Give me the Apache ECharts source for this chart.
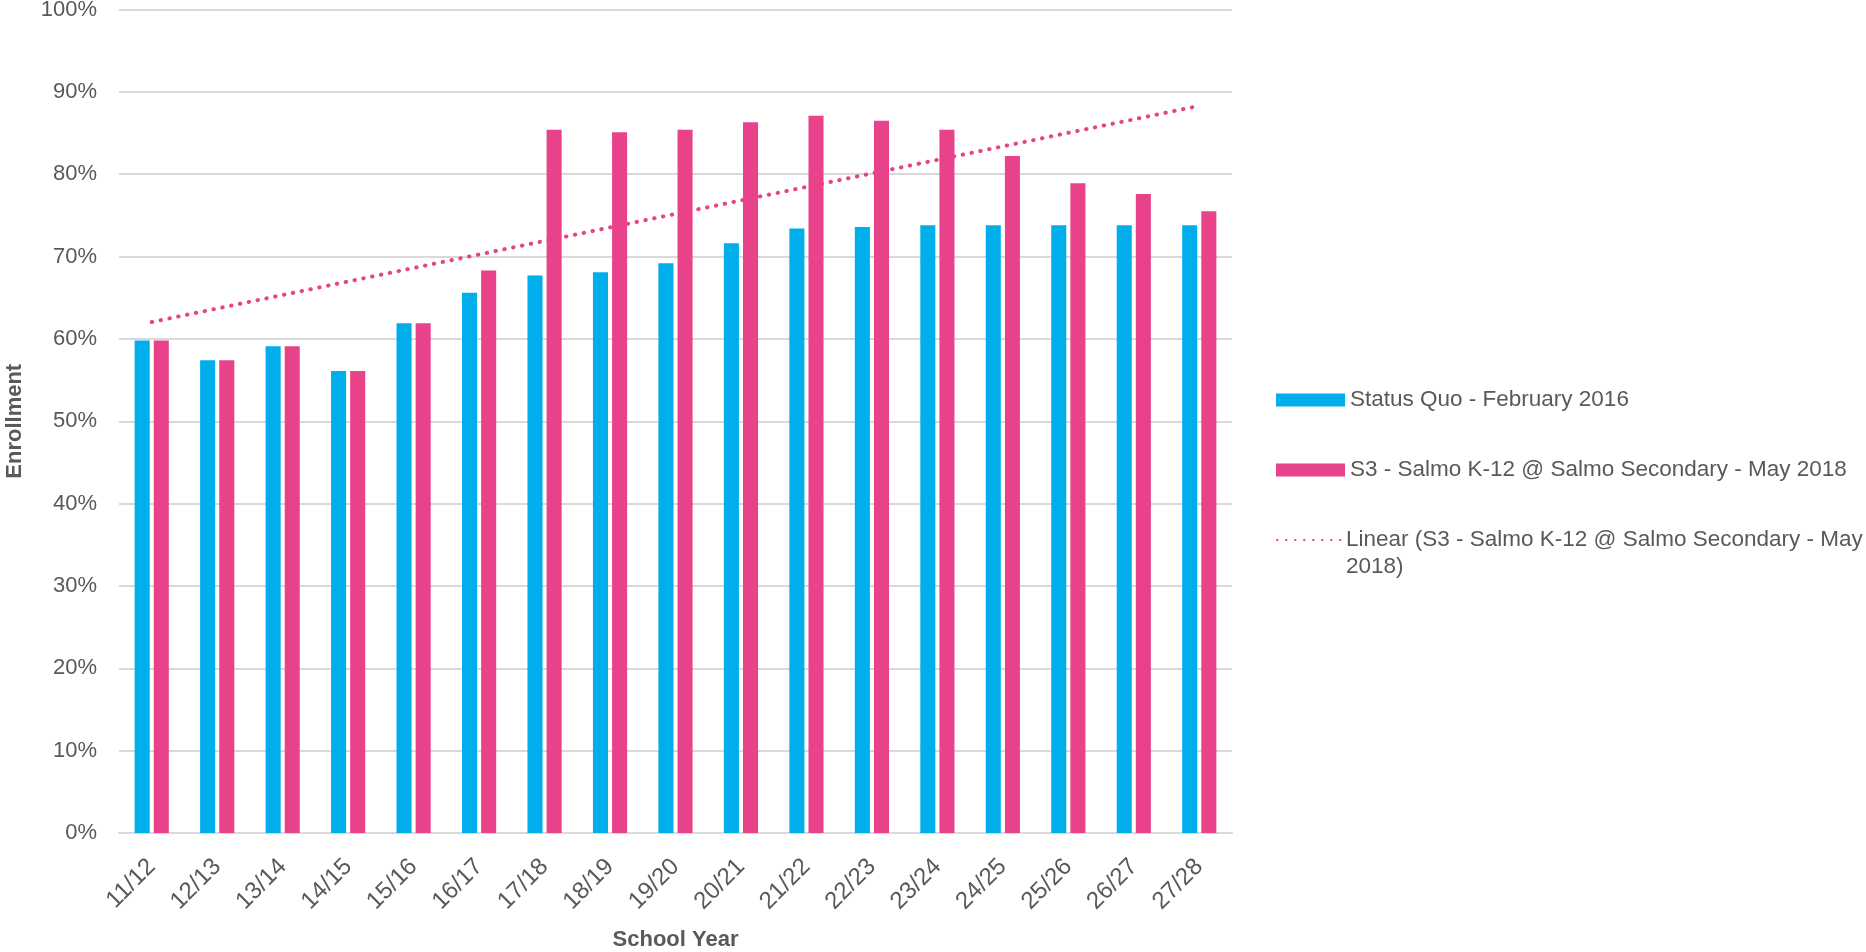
<!DOCTYPE html>
<html>
<head>
<meta charset="utf-8">
<script src="https://cdn.jsdelivr.net/npm/echarts@6/dist/echarts.min.js"></script>
<style>
  html, body { margin: 0; padding: 0; background: #ffffff; }
  #chart { width: 1866px; height: 952px; }
</style>
</head>
<body>
<div id="chart"></div>
<script>
// ---- data ----
const categories = ['11/12','12/13','13/14','14/15','15/16','16/17','17/18','18/19','19/20','20/21','21/22','22/23','23/24','24/25','25/26','26/27','27/28'];
const statusQuo = [59.8, 57.4, 59.1, 56.1, 61.9, 65.6, 67.7, 68.1, 69.2, 71.6, 73.4, 73.6, 73.8, 73.8, 73.8, 73.8, 73.8];
const s3Salmo   = [59.8, 57.4, 59.1, 56.1, 61.9, 68.3, 85.4, 85.1, 85.4, 86.3, 87.1, 86.5, 85.4, 82.2, 78.9, 77.6, 75.5];
const yTicks = [0, 10, 20, 30, 40, 50, 60, 70, 80, 90, 100];
const seriesNames = [
  'Status Quo - February 2016',
  'S3 - Salmo K-12 @ Salmo Secondary - May 2018',
  'Linear (S3 - Salmo K-12 @ Salmo Secondary - May 2018)'
];

// Least-squares linear trend of the S3 series (Excel "Linear" trendline)
function linearTrend(values) {
  const n = values.length;
  let sx = 0, sy = 0, sxx = 0, sxy = 0;
  values.forEach((v, i) => { sx += i; sy += v; sxx += i * i; sxy += i * v; });
  const slope = (n * sxy - sx * sy) / (n * sxx - sx * sx);
  const icpt = (sy - slope * sx) / n;
  return values.map((_, i) => +(icpt + slope * i).toFixed(3));
}
const trend = linearTrend(s3Salmo);

const TEXT = '#595959';
const FONT = 'Liberation Sans, Arial, sans-serif';
const BLUE = '#00AEEB';
const PINK = '#E8438A';
const LEG_FS = 22.5;
const LEG_LH = 27;

const chart = echarts.init(document.getElementById('chart'), null, { renderer: 'canvas' });
chart.setOption({
  animation: false,
  backgroundColor: '#ffffff',
  textStyle: { fontFamily: FONT, color: TEXT },
  grid: { left: 119, right: 634, top: 9.5, bottom: 119, containLabel: false, outerBoundsMode: 'none' },
  legend: [
    {
      orient: 'vertical',
      left: 1276,
      top: 400 - LEG_LH / 2,
      padding: 0,
      itemWidth: 69,
      itemHeight: 13,
      itemGap: 70 - LEG_LH,
      selectedMode: false,
      textStyle: { fontFamily: FONT, fontSize: LEG_FS, color: TEXT, lineHeight: LEG_LH },
      data: [
        { name: seriesNames[0], icon: 'rect' },
        { name: seriesNames[1], icon: 'rect' }
      ]
    },
    {
      orient: 'vertical',
      left: 1276,
      top: 540 - (LEG_LH * 3) / 2,
      padding: 0,
      itemWidth: 64,
      itemHeight: 13,
      selectedMode: false,
      textStyle: { fontFamily: FONT, fontSize: LEG_FS, color: TEXT, lineHeight: LEG_LH },
      // blank first line keeps the first text line level with the dotted icon
      formatter: function () {
        return ' \nLinear (S3 - Salmo K-12 @ Salmo Secondary - May\n2018)';
      },
      data: [
        {
          name: seriesNames[2],
          itemStyle: { color: 'rgba(0,0,0,0)', borderWidth: 0 }
        }
      ]
    }
  ],
  xAxis: {
    type: 'category',
    data: categories,
    name: 'School Year',
    nameLocation: 'middle',
    nameGap: 96,
    nameTextStyle: { fontFamily: FONT, fontSize: 22, fontWeight: 'bold', color: TEXT },
    axisLine: { show: true, lineStyle: { color: '#D9D9D9', width: 2 } },
    axisTick: { show: false },
    axisLabel: { rotate: 45, fontSize: 24, color: TEXT, fontFamily: FONT, margin: 30, interval: 0 }
  },
  yAxis: {
    type: 'value',
    min: 0,
    max: 100,
    interval: 10,
    name: 'Enrollment',
    nameLocation: 'middle',
    nameGap: 93,
    nameRotate: 90,
    nameTextStyle: { fontFamily: FONT, fontSize: 22, fontWeight: 'bold', color: TEXT },
    axisLine: { show: false },
    axisTick: { show: false },
    axisLabel: {
      fontSize: 22, color: TEXT, fontFamily: FONT, margin: 22,
      formatter: function (v) { return yTicks.indexOf(v) >= 0 ? v + '%' : ''; }
    },
    splitLine: { show: true, lineStyle: { color: '#D9D9D9', width: 2 } }
  },
  series: [
    {
      name: seriesNames[0],
      type: 'bar',
      data: statusQuo,
      barWidth: '23%',
      barGap: '27%',
      itemStyle: { color: BLUE }
    },
    {
      name: seriesNames[1],
      type: 'bar',
      data: s3Salmo,
      barWidth: '23%',
      barGap: '27%',
      itemStyle: { color: PINK }
    },
    {
      name: seriesNames[2],
      type: 'line',
      data: trend,
      symbol: 'none',
      z: 5,
      lineStyle: { color: PINK, width: 4, type: [0.5, 8.5], cap: 'round' },
      itemStyle: { color: PINK }
    }
  ]
});
</script>
</body>
</html>
